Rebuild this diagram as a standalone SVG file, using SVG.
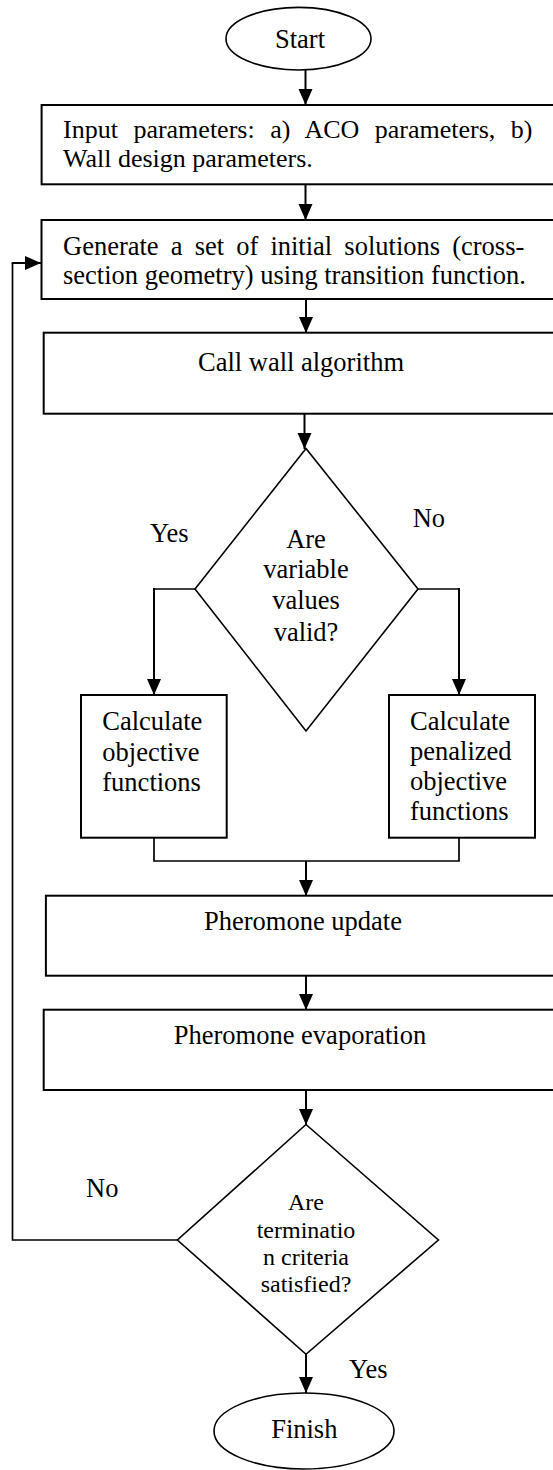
<svg xmlns="http://www.w3.org/2000/svg" width="553" height="1470" viewBox="0 0 553 1470">
<style>
text{font-family:"Liberation Serif","Times New Roman",serif;font-size:26.5px;fill:#000}
.c{text-anchor:middle}
.box{fill:#fff;stroke:#000;stroke-width:2}
.thin{fill:#fff;stroke:#000;stroke-width:1.6}
.ln{fill:none;stroke:#000;stroke-width:2}
.ln2{fill:none;stroke:#000;stroke-width:1.7}
.sm{font-size:24px}
</style>
<defs>
<marker id="ah" markerUnits="userSpaceOnUse" markerWidth="16" markerHeight="18" refX="16" refY="7" orient="auto" viewBox="0 0 16 14">
<path d="M0,0 L16,7 L0,14 Z" fill="#000"/>
</marker>
</defs>
<rect width="553" height="1470" fill="#fff"/>
<g id="connectors">
<line class="ln" x1="305.5" y1="70" x2="305.5" y2="105" marker-end="url(#ah)"/>
<line class="ln" x1="305.5" y1="184" x2="305.5" y2="220" marker-end="url(#ah)"/>
<line class="ln" x1="306" y1="299" x2="306" y2="333" marker-end="url(#ah)"/>
<line class="ln" x1="304.5" y1="414" x2="304.5" y2="449" marker-end="url(#ah)"/>
<polyline class="ln2" points="195,589 154,589"/>
<line class="ln" x1="154" y1="588" x2="154" y2="695" marker-end="url(#ah)"/>
<polyline class="ln2" points="418,589 459,589"/>
<line class="ln" x1="459" y1="588" x2="459" y2="695" marker-end="url(#ah)"/>
<polyline class="ln2" points="154,838 154,861 459,861 459,838"/>
<line class="ln" x1="306" y1="861" x2="306" y2="896" marker-end="url(#ah)"/>
<line class="ln" x1="306" y1="976" x2="306" y2="1010" marker-end="url(#ah)"/>
<line class="ln" x1="306" y1="1090" x2="306" y2="1125" marker-end="url(#ah)"/>
<line class="ln" x1="306" y1="1354" x2="306" y2="1393" marker-end="url(#ah)"/>
<polyline class="ln2" points="177,1240 12.5,1240 12.5,263"/>
<line class="ln" x1="11.7" y1="263" x2="41" y2="263" marker-end="url(#ah)"/>
</g>
<g id="start">
<ellipse class="thin" cx="298.5" cy="38.7" rx="72.5" ry="31.3"/>
<text class="c" x="300" y="47.7">Start</text>
</g>
<g id="input">
<rect class="box" x="41.6" y="105" width="520" height="79.3"/>
<text x="63" y="137.7" style="font-size:26px;word-spacing:9px">Input parameters: a) ACO parameters, b)</text>
<text x="63" y="166.7" style="font-size:26px">Wall design parameters.</text>
</g>
<g id="generate">
<rect class="box" x="41.5" y="220" width="520" height="79"/>
<text x="63" y="255" style="word-spacing:5.5px">Generate a set of initial solutions (cross-</text>
<text x="63" y="284.3">section geometry) using transition function.</text>
</g>
<g id="callwall">
<rect class="box" x="43.7" y="332.7" width="520" height="81"/>
<text class="c" x="301" y="371">Call wall algorithm</text>
</g>
<g id="valid">
<polygon class="thin" points="306,448.5 418,589 306,731 195,589"/>
<text class="c" x="306" y="548.3">Are</text>
<text class="c" x="306" y="578.3">variable</text>
<text class="c" x="306" y="609">values</text>
<text class="c" x="306" y="641">valid?</text>
</g>
<text x="150" y="541.7">Yes</text>
<text x="412.7" y="526.7">No</text>
<g id="objective">
<rect class="box" x="81" y="695" width="145.7" height="142.7"/>
<text x="102.3" y="730">Calculate</text>
<text x="102.3" y="760.5">objective</text>
<text x="102.3" y="791">functions</text>
</g>
<g id="penalized">
<rect class="box" x="389" y="695" width="146" height="142.7"/>
<text x="410" y="730">Calculate</text>
<text x="410" y="760">penalized</text>
<text x="410" y="790">objective</text>
<text x="410" y="820">functions</text>
</g>
<g id="update">
<rect class="box" x="45.9" y="895.7" width="520" height="80"/>
<text class="c" x="303" y="930">Pheromone update</text>
</g>
<g id="evaporation">
<rect class="box" x="43.7" y="1009.7" width="520" height="80.3"/>
<text class="c" x="300" y="1044.3">Pheromone evaporation</text>
</g>
<g id="termination">
<polygon class="thin" points="306,1124.5 438.4,1240 306,1354.3 177.4,1240"/>
<text class="c sm" x="306" y="1210">Are</text>
<text class="c sm" x="306" y="1237.7">terminatio</text>
<text class="c sm" x="306" y="1265">n criteria</text>
<text class="c sm" x="306" y="1292.3">satisfied?</text>
</g>
<text x="86" y="1197.3">No</text>
<text x="349" y="1378.3">Yes</text>
<g id="finish">
<ellipse class="thin" cx="304" cy="1431" rx="90" ry="38"/>
<text class="c" x="304.3" y="1438.3">Finish</text>
</g>
</svg>
